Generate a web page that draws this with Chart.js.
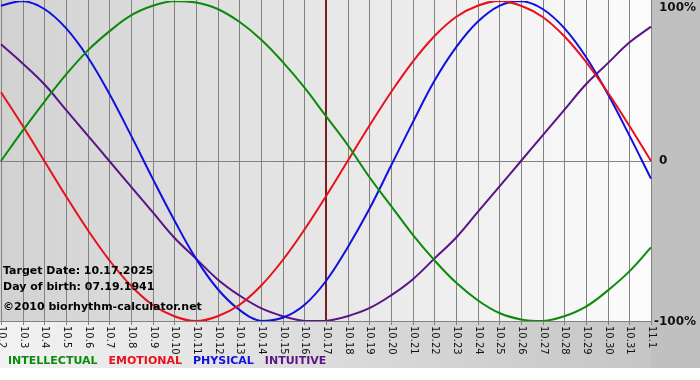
<!DOCTYPE html>
<html>
<head>
<meta charset="utf-8">
<script src="https://cdn.jsdelivr.net/npm/chart.js@4.4.1/dist/chart.umd.min.js"></script>
<style>
  html, body { margin: 0; padding: 0; background: #fff; }
  #wrap { width: 700px; height: 380px; position: relative; }
</style>
</head>
<body>
<div id="wrap"><canvas id="bio"></canvas></div>
<script>
// ---------------------------------------------------------------------------
// Data (percent values, one per day)
// ---------------------------------------------------------------------------

const days = ["10.2", "10.3", "10.4", "10.5", "10.6", "10.7", "10.8", "10.9", "10.10",
  "10.11", "10.12", "10.13", "10.14", "10.15", "10.16", "10.17", "10.18", "10.19",
  "10.20", "10.21", "10.22", "10.23", "10.24", "10.25", "10.26", "10.27", "10.28",
  "10.29", "10.30", "10.31", "11.1"];

const intellectual = [0, 19, 37, 54, 69, 81, 91, 97, 100, 99, 95, 87, 76, 62, 46, 28,
  10, -10, -28, -46, -62, -76, -87, -95, -99, -100, -97, -91, -81, -69, -54];

const emotional = [43, 22, 0, -22, -43, -62, -78, -90, -97, -100, -97, -90, -78, -62,
  -43, -22, 0, 22, 43, 62, 78, 90, 97, 100, 97, 90, 78, 62, 43, 22, 0];

const physical = [97, 100, 95, 83, 65, 42, 16, -11, -37, -61, -80, -93, -100, -98, -90,
  -75, -54, -30, -3, 24, 50, 71, 87, 97, 100, 95, 83, 65, 42, 16, -11];

const intuitive = [73, 61, 48, 32, 16, 0, -16, -32, -48, -61, -74, -84, -92, -97, -100,
  -100, -97, -92, -84, -74, -61, -48, -32, -16, 0, 16, 32, 48, 61, 74, 84];

const yTickLabels = ["100%", "0", "-100%"];
const targetDay = "10.17";

const legendItems = [
  { text: "INTELLECTUAL", color: "#0b8a0b" },
  { text: "EMOTIONAL", color: "#e8101a" },
  { text: "PHYSICAL", color: "#1010e0" },
  { text: "INTUITIVE", color: "#5a1486" },
];

const infoLines = ["Target Date: 10.17.2025", "Day of birth: 07.19.1941", "\u00a92010 biorhythm-calculator.net"];

// ---------------------------------------------------------------------------
// Plugins: backgrounds, grid, labels
// ---------------------------------------------------------------------------

const FONT = "'DejaVu Sans', Verdana, sans-serif";

const backdrop = {
  id: "backdrop",
  beforeDraw(chart) {
    const { ctx, chartArea: a, width } = chart;
    ctx.save();
    ctx.fillStyle = "#ffffff";
    ctx.fillRect(0, 0, width, chart.height);

    // bottom strip behind the tick labels
    let g = ctx.createLinearGradient(0, 0, width, 0);
    g.addColorStop(0, "#f2f2f2");
    g.addColorStop(1, "#c2c2c2");
    ctx.fillStyle = g;
    ctx.fillRect(0, a.bottom, width, 368 - a.bottom);

    // right panel
    ctx.fillStyle = "#c0c0c0";
    ctx.fillRect(a.right, 0, width - a.right, 368);

    // plot area
    g = ctx.createLinearGradient(a.left, 0, a.right, 0);
    g.addColorStop(0, "#d2d2d2");
    g.addColorStop(1, "#fcfcfc");
    ctx.fillStyle = g;
    ctx.fillRect(0, 0, a.right, a.bottom);
    ctx.restore();
  },
  beforeDatasetsDraw(chart) {
    const { ctx, chartArea: a, scales: { x, y } } = chart;
    ctx.save();
    ctx.strokeStyle = "#828282";
    ctx.lineWidth = 1;
    days.forEach((d, i) => {
      const px = Math.round(x.getPixelForValue(i)) + 0.5;
      ctx.beginPath();
      ctx.moveTo(px, 0);
      ctx.lineTo(px, a.bottom + 4);
      ctx.stroke();
    });
    const y0 = Math.round(y.getPixelForValue(0)) + 0.5;
    ctx.beginPath();
    ctx.moveTo(0, y0);
    ctx.lineTo(a.right, y0);
    ctx.moveTo(0, a.bottom + 0.5);
    ctx.lineTo(a.right, a.bottom + 0.5);
    ctx.stroke();

    // target day marker
    const tx = Math.round(x.getPixelForValue(days.indexOf(targetDay)));
    ctx.strokeStyle = "#7a1f1f";
    ctx.lineWidth = 2;
    ctx.beginPath();
    ctx.moveTo(tx, 0);
    ctx.lineTo(tx, a.bottom);
    ctx.stroke();
    ctx.restore();
  },
  afterDraw(chart) {
    const { ctx, chartArea: a, scales: { x, y } } = chart;
    ctx.save();

    // rotated day labels
    ctx.fillStyle = "#111";
    ctx.font = "10px " + FONT;
    ctx.textAlign = "left";
    ctx.textBaseline = "middle";
    days.forEach((d, i) => {
      ctx.save();
      ctx.translate(Math.round(x.getPixelForValue(i)) + 1, a.bottom + 5);
      ctx.rotate(Math.PI / 2);
      ctx.fillText(d, 0, 0);
      ctx.restore();
    });

    // right axis labels
    ctx.font = "bold 12px " + FONT;
    ctx.fillStyle = "#111";
    ctx.fillText(yTickLabels[0], a.right + 8, y.getPixelForValue(100) + 7);
    ctx.fillText(yTickLabels[1], a.right + 8, y.getPixelForValue(0));
    ctx.fillText(yTickLabels[2], a.right + 3, y.getPixelForValue(-100) + 1);

    // info text
    ctx.font = "bold 11px " + FONT;
    ctx.fillStyle = "#000";
    ctx.fillText(infoLines[0], 3, 271);
    ctx.fillText(infoLines[1], 3, 287);
    ctx.fillText(infoLines[2], 3, 307);

    // legend
    let lx = 8;
    legendItems.forEach((it) => {
      ctx.fillStyle = it.color;
      ctx.fillText(it.text, lx, 361);
      lx += ctx.measureText(it.text).width + 11;
    });
    ctx.restore();
  },
};

// ---------------------------------------------------------------------------
// Chart
// ---------------------------------------------------------------------------

function series(label, data, color) {
  return {
    label,
    data,
    borderColor: color,
    borderWidth: 2,
    pointRadius: 0,
    tension: 0.4,
    fill: false,
  };
}

new Chart(document.getElementById("bio"), {
  type: "line",
  data: {
    labels: days,
    datasets: [
      series("INTELLECTUAL", intellectual, legendItems[0].color),
      series("EMOTIONAL", emotional, legendItems[1].color),
      series("PHYSICAL", physical, legendItems[2].color),
      series("INTUITIVE", intuitive, legendItems[3].color),
    ],
  },
  options: {
    responsive: true,
    maintainAspectRatio: false,
    animation: false,
    events: [],
    layout: { padding: { left: 1, right: 49, top: 1, bottom: 59 } },
    scales: {
      x: { display: false, offset: false },
      y: { display: false, min: -100, max: 100 },
    },
    plugins: { legend: { display: false }, tooltip: { enabled: false } },
  },
  plugins: [backdrop],
});
</script>
</body>
</html>
